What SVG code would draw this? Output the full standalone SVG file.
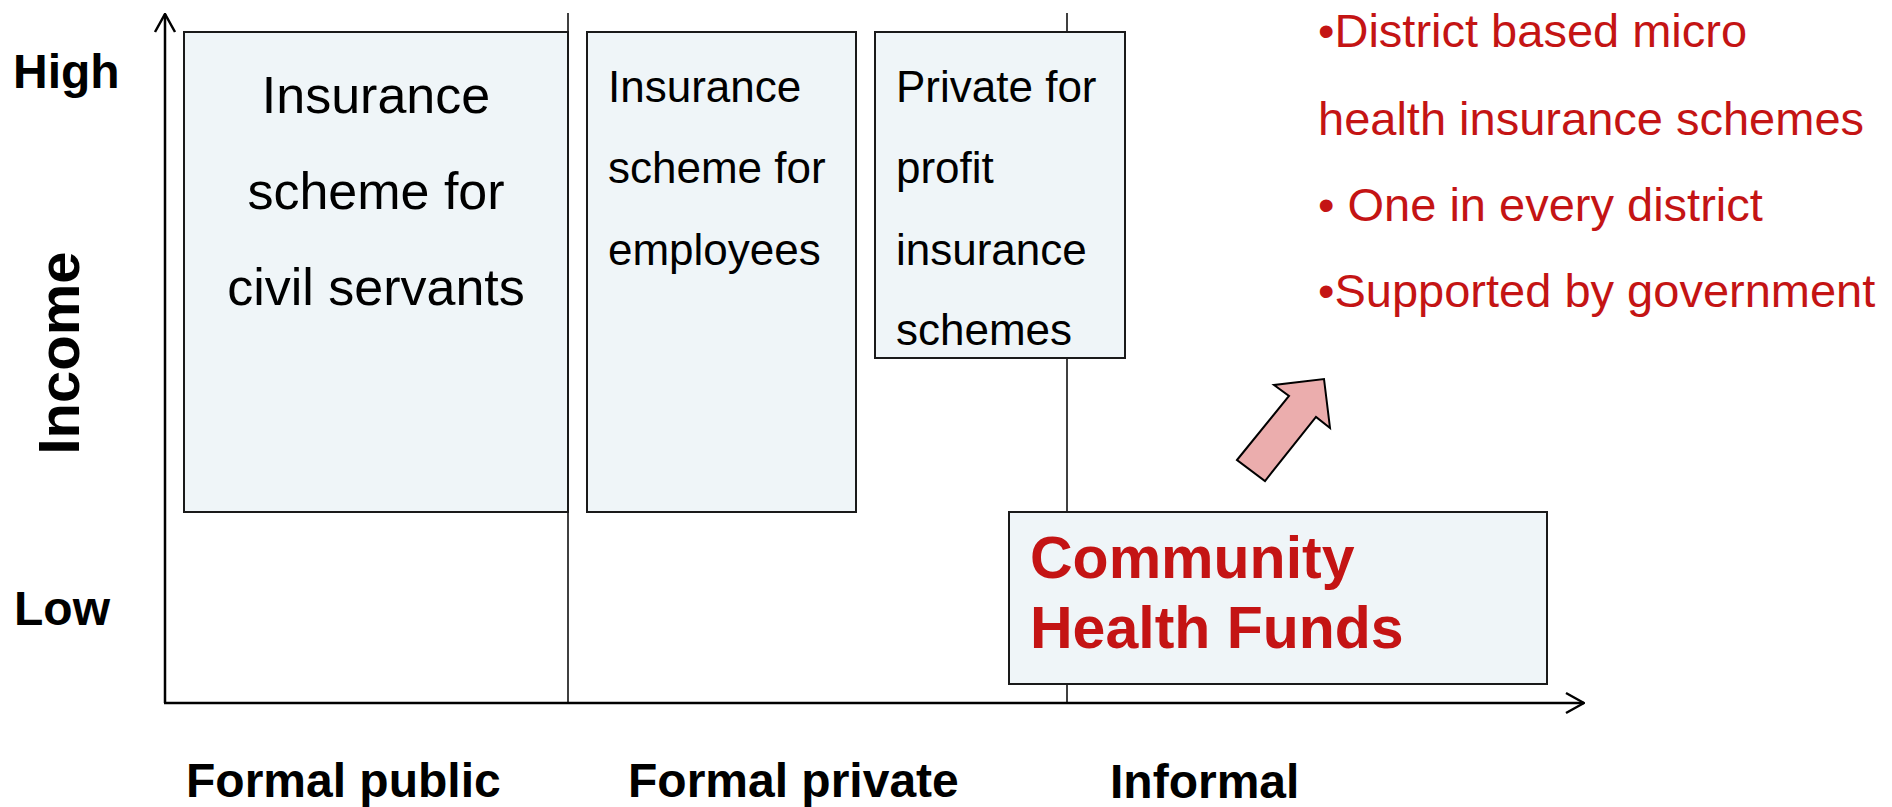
<svg xmlns="http://www.w3.org/2000/svg" width="1892" height="807" viewBox="0 0 1892 807">
<style>
.box{fill:#EFF5F8;stroke:#1a1a1a;stroke-width:2}
.axis{stroke:#000;stroke-width:2.5;fill:none}
.div{stroke:#000;stroke-width:1.5;fill:none}
.lbl{font-family:"Liberation Sans",Arial,sans-serif;font-weight:bold;font-size:48px;fill:#000}
.t1{font-family:"Liberation Sans",Arial,sans-serif;font-size:52px;fill:#000}
.t2{font-family:"Liberation Sans",Arial,sans-serif;font-size:44px;fill:#000}
.red{font-family:"Liberation Sans",Arial,sans-serif;font-size:47px;fill:#C41414}
.chf{font-family:"Liberation Sans",Arial,sans-serif;font-weight:bold;font-size:59px;fill:#C41414}
</style>
<defs>
<marker id="open" viewBox="0 0 20 24" refX="19" refY="12" markerWidth="20" markerHeight="24" markerUnits="userSpaceOnUse" orient="auto">
<path d="M1,2 L19,12 L1,22" fill="none" stroke="#000" stroke-width="2.5"/>
</marker>
</defs>
<g id="connectors">
<line class="axis" x1="165" y1="703" x2="165" y2="14" marker-end="url(#open)"/>
<line class="axis" x1="164" y1="703" x2="1584" y2="703" marker-end="url(#open)"/>
<line class="div" x1="568" y1="13" x2="568" y2="703"/>
<line class="div" x1="1067" y1="13" x2="1067" y2="703"/>
</g>
<g id="label-high"><text class="lbl" x="13" y="88">High</text></g>
<g id="label-low"><text class="lbl" x="14" y="625">Low</text></g>
<g id="label-income"><text class="lbl" style="font-size:58px" transform="translate(79,353) rotate(-90)" text-anchor="middle">Income</text></g>
<g id="label-formal-public"><text class="lbl" x="186" y="797">Formal public</text></g>
<g id="label-formal-private"><text class="lbl" x="628" y="797">Formal private</text></g>
<g id="label-informal"><text class="lbl" x="1110" y="798">Informal</text></g>
<g id="node-civil">
<rect class="box" x="184" y="32" width="384" height="480"/>
<text class="t1" text-anchor="middle"><tspan x="376" y="113">Insurance</tspan><tspan x="376" y="209">scheme for</tspan><tspan x="376" y="305">civil servants</tspan></text>
</g>
<g id="node-employees">
<rect class="box" x="587" y="32" width="269" height="480"/>
<text class="t2"><tspan x="608" y="102">Insurance</tspan><tspan x="608" y="183">scheme for</tspan><tspan x="608" y="265">employees</tspan></text>
</g>
<g id="node-private">
<rect class="box" x="875" y="32" width="250" height="326"/>
<text class="t2"><tspan x="896" y="102">Private for</tspan><tspan x="896" y="183">profit</tspan><tspan x="896" y="265">insurance</tspan><tspan x="896" y="345">schemes</tspan></text>
</g>
<g id="node-chf">
<rect class="box" x="1009" y="512" width="538" height="172"/>
<text class="chf"><tspan x="1030" y="578">Community</tspan><tspan x="1030" y="648">Health Funds</tspan></text>
</g>
<g id="block-arrow">
<polygon points="1237,460 1289,396 1274,385 1324,379 1330,428 1316,417 1265,481" fill="#EBADAD" stroke="#000" stroke-width="2" stroke-linejoin="miter"/>
</g>
<g id="notes">
<text class="red"><tspan x="1318" y="47">•District based micro</tspan><tspan x="1318" y="135">health insurance schemes</tspan><tspan x="1318" y="221">• One in every district</tspan><tspan x="1318" y="307">•Supported by government</tspan></text>
</g>
</svg>
